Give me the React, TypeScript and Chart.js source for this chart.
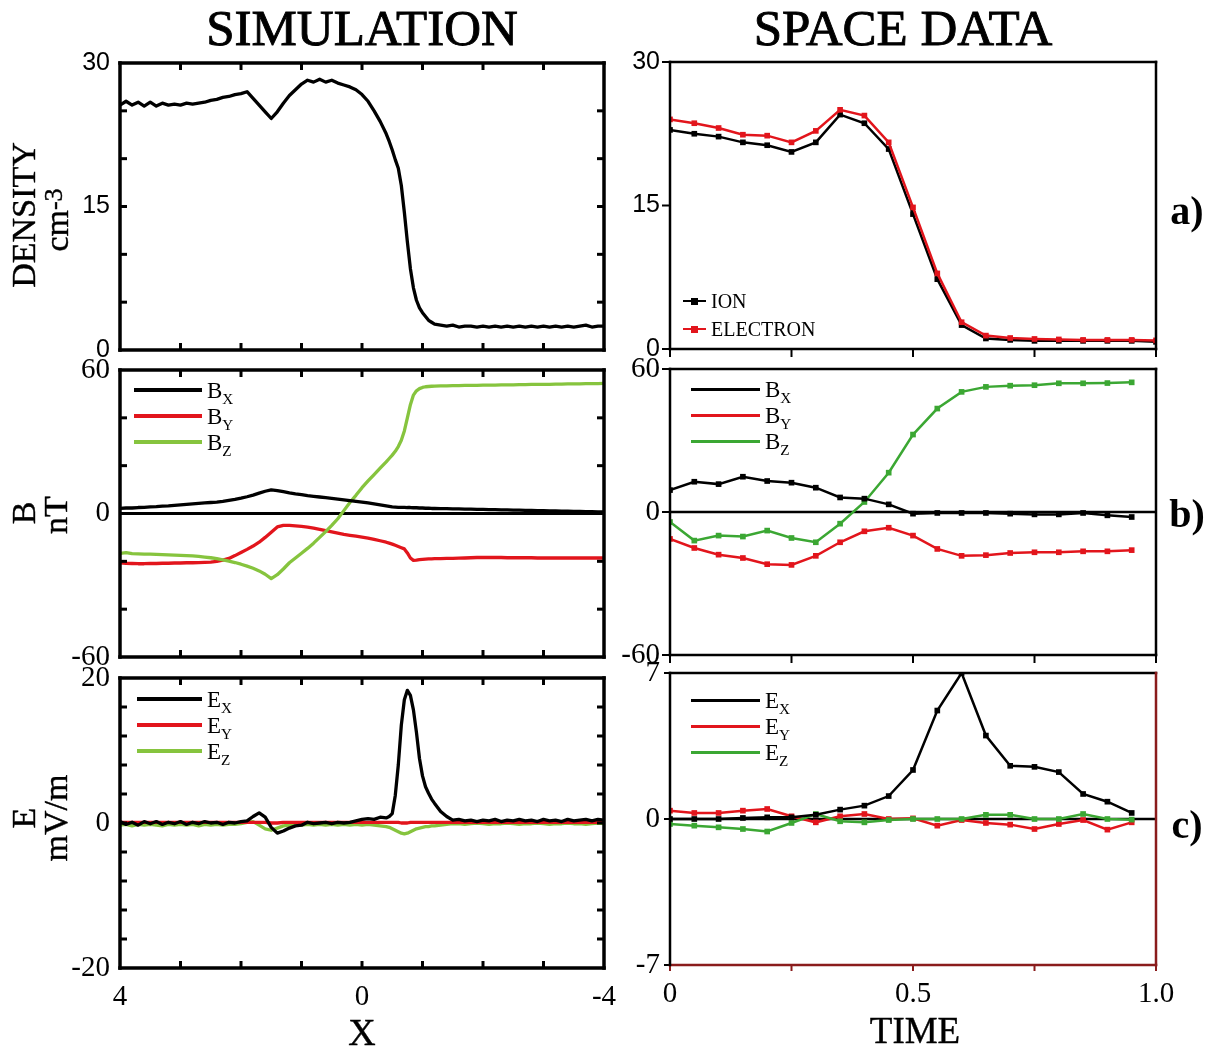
import React, { useEffect, useRef } from 'react';
import { Chart, registerables } from 'chart.js';

Chart.register(...registerables);

const W = 1217;
const H = 1049;
const SERIF = '"Liberation Serif", "DejaVu Serif", serif';
const SANS = '"Liberation Sans", Arial, sans-serif';
const RED = '#e2151c';
const GREEN_SIM = '#86c43e';
const GREEN_OBS = '#3ba733';
const BLACK = '#000000';
const MAROON = '#8a1c1c';

// ---------------- SIMULATION (left column) ----------------
const simX = [
  4.0, 3.9, 3.8, 3.7, 3.6, 3.5, 3.4, 3.3, 3.2, 3.1,
  3.0, 2.9, 2.8, 2.7, 2.6, 2.5, 2.4, 2.3, 2.2, 2.1,
  2.0, 1.9, 1.8, 1.7, 1.6, 1.5, 1.4, 1.3, 1.2, 1.1,
  1.0, 0.9, 0.8, 0.7, 0.6, 0.5, 0.4, 0.3, 0.2, 0.1,
  0.0, -0.1, -0.2, -0.3, -0.4,
  -0.45, -0.5, -0.55, -0.6, -0.65, -0.7, -0.75, -0.8, -0.85, -0.9, -0.95, -1.0, -1.05, -1.1, -1.15, -1.2,
  -1.3, -1.4, -1.5, -1.6, -1.7, -1.8, -1.9, -2.0, -2.1, -2.2,
  -2.3, -2.4, -2.5, -2.6, -2.7, -2.8, -2.9, -3.0, -3.1, -3.2,
  -3.3, -3.4, -3.5, -3.6, -3.7, -3.8, -3.9, -4.0,
];

const simDensity = [
  25.6, 26.0, 25.6, 25.9, 25.5, 25.9, 25.5, 25.8, 25.6, 25.7,
  25.6, 25.8, 25.7, 25.8, 25.9, 26.1, 26.2, 26.4, 26.5, 26.7,
  26.8, 27.0, 26.3, 25.6, 24.9, 24.2, 24.9, 25.8, 26.6, 27.2,
  27.8, 28.2, 28.0, 28.3, 28.0, 28.2, 27.9, 27.7, 27.5, 27.2,
  26.7, 26.0, 25.0, 23.9, 22.6,
  21.8, 20.9, 19.9, 19.0, 17.2, 14.4, 11.3, 8.5, 6.5, 5.2, 4.4, 3.9, 3.5, 3.1, 2.9, 2.7,
  2.6, 2.5, 2.6, 2.4, 2.5, 2.5, 2.4, 2.5, 2.4, 2.5,
  2.4, 2.5, 2.4, 2.5, 2.4, 2.5, 2.4, 2.5, 2.4, 2.5,
  2.4, 2.5, 2.4, 2.5, 2.6, 2.4, 2.5, 2.5,
];

const simBx = [
  2.1, 2.3, 2.3, 2.5, 2.6, 2.8, 2.9, 3.1, 3.2, 3.4,
  3.6, 3.8, 4.0, 4.2, 4.4, 4.6, 4.8, 5.1, 5.5, 5.9,
  6.4, 7.0, 7.7, 8.5, 9.3, 9.9, 9.6, 9.1, 8.6, 8.2,
  7.9, 7.5, 7.2, 6.9, 6.6, 6.3, 6.0, 5.7, 5.4, 5.1,
  4.8, 4.4, 4.0, 3.6, 3.2,
  3.0, 2.8, 2.7, 2.6, 2.6, 2.6, 2.5, 2.5, 2.4, 2.4, 2.3, 2.3, 2.2, 2.2, 2.1, 2.1,
  2.0, 2.0, 1.9, 1.9, 1.8, 1.8, 1.7, 1.7, 1.6, 1.6,
  1.5, 1.5, 1.4, 1.4, 1.3, 1.3, 1.2, 1.2, 1.1, 1.1,
  1.0, 1.0, 0.9, 0.9, 0.8, 0.8, 0.7, 0.7,
];

const simBy = [
  -20.6, -20.8, -20.9, -21.0, -21.0, -20.9, -20.9, -20.8, -20.8, -20.7,
  -20.7, -20.6, -20.6, -20.5, -20.4, -20.3, -20.0, -19.5, -18.8, -17.6,
  -16.3, -15.0, -13.6, -12.0, -10.0, -7.8, -5.6, -5.0, -5.0, -5.2,
  -5.4, -5.7, -6.1, -6.6, -7.2, -7.7, -8.2, -8.7, -9.1, -9.5,
  -9.9, -10.3, -10.8, -11.4, -12.0,
  -12.4, -12.8, -13.3, -13.8, -14.3, -14.8, -16.5, -18.6, -19.6, -19.5, -19.3, -19.2, -19.1, -19.0, -19.0, -18.9,
  -18.9, -18.8, -18.8, -18.7, -18.6, -18.5, -18.4, -18.4, -18.4, -18.4,
  -18.4, -18.5, -18.5, -18.5, -18.5, -18.5, -18.6, -18.6, -18.6, -18.6,
  -18.6, -18.6, -18.6, -18.6, -18.6, -18.6, -18.6, -18.6,
];

const simBz = [
  -16.7, -16.4, -16.8, -16.9, -17.0, -17.0, -17.1, -17.2, -17.3, -17.4,
  -17.5, -17.6, -17.7, -17.9, -18.2, -18.5, -18.9, -19.4, -19.9, -20.5,
  -21.2, -22.0, -22.9, -24.0, -25.4, -27.2, -25.6, -23.2, -20.6, -18.6,
  -16.6, -14.6, -12.4, -10.0, -7.6, -5.0, -2.2, 1.2, 4.6, 7.6,
  10.8, 13.6, 16.3, 19.0, 21.6,
  23.0, 24.4, 26.0, 28.0, 30.6, 34.5, 40.0, 45.5, 49.5, 51.3, 52.2, 52.7, 53.0, 53.1, 53.2, 53.3,
  53.4, 53.4, 53.5, 53.5, 53.6, 53.6, 53.6, 53.7, 53.7, 53.7,
  53.8, 53.8, 53.8, 53.9, 53.9, 54.0, 54.0, 54.0, 54.0, 54.1,
  54.1, 54.2, 54.2, 54.2, 54.3, 54.3, 54.3, 54.4,
];

const simEx = [
  0.2, -0.2, 0.1, -0.3, 0.2, -0.1, 0.2, -0.2, 0.1, -0.1,
  0.2, -0.2, 0.1, -0.1, 0.2, 0.0, 0.1, -0.2, 0.1, 0.0,
  0.2, 0.3, 0.9, 1.4, 0.8, -0.6, -1.4, -1.1, -0.7, -0.4,
  -0.3, 0.1, -0.1, 0.0, 0.1, -0.1, 0.1, 0.0, 0.1, 0.3,
  0.5, 0.6, 0.5, 0.8, 0.7,
  0.9, 1.3, 3.8, 8.0, 13.5, 17.0, 18.3, 17.6, 15.6, 12.5, 8.9, 6.5, 5.0, 4.1, 3.3, 2.7,
  1.6, 0.9, 0.4, 0.5, 0.3, 0.4, 0.2, 0.4, 0.3, 0.5,
  0.2, 0.4, 0.3, 0.5, 0.3, 0.4, 0.2, 0.5, 0.3, 0.4,
  0.2, 0.5, 0.3, 0.4, 0.5, 0.3, 0.5, 0.4,
];

const simEy = [
  0.1, 0.1, 0.1, 0.1, 0.1, 0.1, 0.1, 0.1, 0.1, 0.1,
  0.1, 0.1, 0.1, 0.1, 0.1, 0.1, 0.1, 0.1, 0.1, 0.1,
  0.1, 0.1, 0.1, 0.1, 0.1, 0.0, 0.0, 0.1, 0.1, 0.1,
  0.1, 0.1, 0.1, 0.1, 0.1, 0.1, 0.1, 0.1, 0.1, 0.1,
  0.1, 0.1, 0.1, 0.1, 0.1,
  0.1, 0.1, 0.1, 0.1, 0.0, 0.0, 0.0, 0.1, 0.1, 0.1, 0.1, 0.1, 0.1, 0.1, 0.1, 0.1,
  0.1, 0.1, 0.1, 0.1, 0.1, 0.1, 0.1, 0.1, 0.1, 0.1,
  0.1, 0.1, 0.1, 0.1, 0.1, 0.1, 0.1, 0.1, 0.1, 0.1,
  0.1, 0.1, 0.1, 0.1, 0.1, 0.1, 0.1, 0.1,
];

const simEz = [
  -0.3, -0.2, -0.4, -0.2, -0.3, -0.2, -0.3, -0.4, -0.2, -0.3,
  -0.2, -0.3, -0.2, -0.4, -0.2, -0.3, -0.2, -0.3, -0.2, -0.2,
  -0.1, 0.1, 0.2, -0.3, -0.8, -1.0, -0.7, -0.4, -0.3, -0.2,
  -0.3, -0.2, -0.3, -0.2, -0.3, -0.2, -0.3, -0.2, -0.3, -0.2,
  -0.3, -0.2, -0.3, -0.4, -0.5,
  -0.6, -0.8, -1.0, -1.2, -1.4, -1.5, -1.4, -1.2, -1.0, -0.8, -0.7, -0.6, -0.5, -0.5, -0.4, -0.4,
  -0.3, -0.2, -0.1, -0.1, -0.2, -0.1, 0.0, -0.1, -0.2, -0.1,
  -0.1, 0.0, -0.1, -0.2, -0.1, -0.1, 0.0, -0.1, -0.2, -0.1,
  -0.1, 0.0, -0.1, -0.1, -0.2, -0.1, 0.0, -0.1,
];

const simXLabelValues = [4, 0, -4];
const simXLabelText = ['4', '0', '-4'];
const simXMinor = [3, 2, 1, 0, -1, -2, -3];
const densityLabelValues = [0, 15, 30];
const densityLabelText = ['0', '15', '30'];
const densityMinor = [5, 10, 15, 20, 25];
const bLabelValues = [-60, 0, 60];
const bLabelText = ['-60', '0', '60'];
const bMinor = [-40, -20, 0, 20, 40];
const simELabelValues = [-20, 0, 20];
const simELabelText = ['-20', '0', '20'];
const simEMinor = [-16, -12, -8, -4, 0, 4, 8, 12, 16];

// ---------------- SPACE DATA (right column) ----------------
const timeDensity = [0, 0.05, 0.1, 0.15, 0.2, 0.25, 0.3, 0.35, 0.4, 0.45, 0.5, 0.55, 0.6, 0.65, 0.7, 0.75, 0.8, 0.85, 0.9, 0.95, 1.0];
const ionDensity = [22.9, 22.5, 22.2, 21.6, 21.3, 20.6, 21.6, 24.5, 23.6, 20.9, 14.1, 7.3, 2.5, 1.1, 0.95, 0.85, 0.85, 0.85, 0.85, 0.85, 0.75];
const electronDensity = [24.0, 23.6, 23.1, 22.4, 22.3, 21.6, 22.8, 25.0, 24.4, 21.6, 14.8, 7.9, 2.8, 1.4, 1.15, 1.05, 1.0, 0.95, 0.95, 0.95, 0.9];

const timeField = [0, 0.05, 0.1, 0.15, 0.2, 0.25, 0.3, 0.35, 0.4, 0.45, 0.5, 0.55, 0.6, 0.65, 0.7, 0.75, 0.8, 0.85, 0.9, 0.95];
const obsBx = [9.2, 12.7, 11.7, 14.8, 13.0, 12.3, 10.2, 6.1, 5.6, 3.2, -0.7, -0.4, -0.4, -0.4, -0.7, -1.0, -1.0, -0.4, -1.4, -2.1];
const obsBy = [-11.3, -15.1, -17.9, -19.3, -21.9, -22.2, -18.4, -12.7, -8.1, -6.6, -9.9, -15.5, -18.4, -18.1, -17.2, -16.9, -16.9, -16.5, -16.5, -16.0];
const obsBz = [-4.2, -12.0, -9.9, -10.3, -7.8, -10.9, -12.7, -4.9, 4.2, 16.5, 32.5, 43.4, 50.4, 52.5, 53.0, 53.2, 54.0, 54.0, 54.1, 54.4];
const obsEx = [0, 0, 0, 0.05, 0.08, 0.08, 0.2, 0.45, 0.64, 1.1, 2.35, 5.2, 7.0, 4.0, 2.55, 2.5, 2.25, 1.2, 0.83, 0.29];
const obsEy = [0.4, 0.29, 0.29, 0.4, 0.48, 0.13, -0.16, 0.13, 0.24, 0, 0.03, -0.32, -0.05, -0.19, -0.27, -0.48, -0.24, -0.05, -0.51, -0.16];
const obsEz = [-0.24, -0.32, -0.4, -0.48, -0.6, -0.19, 0.24, -0.11, -0.16, -0.05, 0, 0, 0, 0.2, 0.2, 0, 0, 0.24, 0, -0.03];

const timeMinor = [0, 0.25, 0.5, 0.75, 1.0];
const timeLabelValues = [0, 0.5, 1.0];
const timeLabelText = ['0', '0.5', '1.0'];
const obsDensityLabelValues = [0, 15, 30];
const obsDensityLabelText = ['0', '15', '30'];
const obsBLabelValues = [-60, 0, 60];
const obsBLabelText = ['-60', '0', '60'];
const obsELabelValues = [-7, 0, 7];
const obsELabelText = ['-7', '0', '7'];

// ---------------- chart building ----------------
type Sides = { top: string; right: string; bottom: string; left: string };
interface Spec {
  left: number; top: number; right: number; bottom: number;
  xMin: number; xMax: number; xReverse: boolean;
  yMin: number; yMax: number;
  datasets: any[];
  yLabelValues: number[]; yLabelText: string[]; yFamily: string; ySize: number;
  xLabelValues?: number[]; xLabelText?: string[];
  innerX?: number[]; innerY?: number[];
  outerX?: number[]; outerY?: number[];
  tickLen: number; tickWidth: number;
  frameWidth: number; frame: Sides;
  zero?: number;
}

function simLine(values: number[], color: string, order: number) {
  return {
    data: simX.map((x, i) => ({ x, y: values[i] })),
    borderColor: color, backgroundColor: color, borderWidth: 3.3,
    pointRadius: 0, tension: 0, order, borderJoinStyle: 'round',
  };
}

function obsLine(xs: number[], values: number[], color: string, order: number) {
  return {
    data: xs.map((x, i) => ({ x, y: values[i] })),
    borderColor: color, backgroundColor: color, borderWidth: 2.5,
    pointRadius: 4, pointStyle: 'rect', pointBorderWidth: 0, tension: 0, order,
  };
}

function framePlugin(s: Spec) {
  const seg = (ctx: CanvasRenderingContext2D, x1: number, y1: number, x2: number, y2: number, c: string, w: number) => {
    ctx.strokeStyle = c; ctx.lineWidth = w;
    ctx.beginPath(); ctx.moveTo(x1, y1); ctx.lineTo(x2, y2); ctx.stroke();
  };
  return {
    id: 'frame',
    beforeDatasetsDraw(chart: any) {
      if (!s.zero) return;
      const { ctx, chartArea: a } = chart;
      const y0 = chart.scales.y.getPixelForValue(0);
      ctx.save();
      seg(ctx, a.left, y0, a.right, y0, BLACK, s.zero);
      ctx.restore();
    },
    afterDatasetsDraw(chart: any) {
      const { ctx, chartArea: a } = chart;
      const xs = chart.scales.x;
      const ys = chart.scales.y;
      const tl = s.tickLen;
      const tw = s.tickWidth;
      ctx.save();
      ctx.lineCap = 'butt';
      (s.innerX || []).forEach((v) => {
        const p = xs.getPixelForValue(v);
        seg(ctx, p, a.bottom, p, a.bottom - tl, BLACK, tw);
        seg(ctx, p, a.top, p, a.top + tl, BLACK, tw);
      });
      (s.innerY || []).forEach((v) => {
        const p = ys.getPixelForValue(v);
        seg(ctx, a.left, p, a.left + tl, p, BLACK, tw);
        seg(ctx, a.right, p, a.right - tl, p, BLACK, tw);
      });
      (s.outerX || []).forEach((v) => {
        const p = xs.getPixelForValue(v);
        seg(ctx, p, a.bottom, p, a.bottom + tl, s.frame.bottom, tw);
      });
      (s.outerY || []).forEach((v) => {
        const p = ys.getPixelForValue(v);
        seg(ctx, a.left, p, a.left - tl, p, s.frame.left, tw);
      });
      const h = s.frameWidth / 2;
      seg(ctx, a.left - h, a.top, a.right + h, a.top, s.frame.top, s.frameWidth);
      seg(ctx, a.left - h, a.bottom, a.right + h, a.bottom, s.frame.bottom, s.frameWidth);
      seg(ctx, a.right, a.top - h, a.right, a.bottom + h, s.frame.right, s.frameWidth);
      seg(ctx, a.left, a.top - h, a.left, a.bottom + h, s.frame.left, s.frameWidth);
      ctx.restore();
    },
  };
}

function buildChart(canvas: HTMLCanvasElement, s: Spec) {
  const yW = 60;
  const xH = s.xLabelValues ? 50 : 0;
  return new Chart(canvas, {
    type: 'line',
    data: { datasets: s.datasets as any },
    options: {
      responsive: false,
      animation: false,
      events: [],
      layout: { padding: { left: s.left - yW, top: s.top, right: W - s.right, bottom: H - s.bottom - xH } },
      plugins: { legend: { display: false }, tooltip: { enabled: false } },
      scales: {
        x: {
          type: 'linear', min: s.xMin, max: s.xMax, reverse: s.xReverse,
          grid: { display: false, drawTicks: false }, border: { display: false },
          afterBuildTicks: (axis: any) => { axis.ticks = (s.xLabelValues || []).map((v) => ({ value: v })); },
          ticks: {
            display: !!s.xLabelValues, autoSkip: false, maxRotation: 0, padding: 12, color: BLACK,
            font: { family: SERIF, size: 29 },
            callback: (_v: any, i: number) => (s.xLabelText ? s.xLabelText[i] : ''),
          },
          afterFit: (axis: any) => { axis.height = xH; },
        },
        y: {
          type: 'linear', min: s.yMin, max: s.yMax,
          grid: { display: false, drawTicks: false }, border: { display: false },
          afterBuildTicks: (axis: any) => { axis.ticks = s.yLabelValues.map((v) => ({ value: v })); },
          ticks: {
            autoSkip: false, padding: 10, color: BLACK,
            font: { family: s.yFamily, size: s.ySize },
            callback: (_v: any, i: number) => s.yLabelText[i],
          },
          afterFit: (axis: any) => { axis.width = yW; },
        },
      },
    } as any,
    plugins: [framePlugin(s) as any],
  });
}

const L_LEFT = 120, L_RIGHT = 604, R_LEFT = 670, R_RIGHT = 1156;
const blackFrame: Sides = { top: BLACK, right: BLACK, bottom: BLACK, left: BLACK };

const specs: Spec[] = [
  {
    left: L_LEFT, right: L_RIGHT, top: 63, bottom: 350,
    xMin: -4, xMax: 4, xReverse: true, yMin: 0, yMax: 30,
    datasets: [simLine(simDensity, BLACK, 0)],
    yLabelValues: densityLabelValues, yLabelText: densityLabelText, yFamily: SANS, ySize: 25,
    innerX: simXMinor, innerY: densityMinor, tickLen: 7, tickWidth: 3,
    frameWidth: 3.5, frame: blackFrame,
  },
  {
    left: L_LEFT, right: L_RIGHT, top: 370, bottom: 657,
    xMin: -4, xMax: 4, xReverse: true, yMin: -60, yMax: 60,
    datasets: [simLine(simBx, BLACK, 0), simLine(simBz, GREEN_SIM, 1), simLine(simBy, RED, 2)],
    yLabelValues: bLabelValues, yLabelText: bLabelText, yFamily: SERIF, ySize: 29,
    innerX: simXMinor, innerY: bMinor, tickLen: 7, tickWidth: 3,
    frameWidth: 3.5, frame: blackFrame, zero: 3,
  },
  {
    left: L_LEFT, right: L_RIGHT, top: 678, bottom: 968,
    xMin: -4, xMax: 4, xReverse: true, yMin: -20, yMax: 20,
    datasets: [simLine(simEx, BLACK, 0), simLine(simEy, RED, 1), simLine(simEz, GREEN_SIM, 2)],
    yLabelValues: simELabelValues, yLabelText: simELabelText, yFamily: SERIF, ySize: 29,
    xLabelValues: simXLabelValues, xLabelText: simXLabelText,
    innerX: simXMinor, innerY: simEMinor, tickLen: 7, tickWidth: 3,
    frameWidth: 3.5, frame: blackFrame, zero: 2,
  },
  {
    left: R_LEFT, right: R_RIGHT, top: 62, bottom: 349,
    xMin: 0, xMax: 1, xReverse: false, yMin: 0, yMax: 30,
    datasets: [obsLine(timeDensity, electronDensity, RED, 0), obsLine(timeDensity, ionDensity, BLACK, 1)],
    yLabelValues: obsDensityLabelValues, yLabelText: obsDensityLabelText, yFamily: SANS, ySize: 25,
    outerX: timeMinor, outerY: obsDensityLabelValues, tickLen: 8, tickWidth: 2,
    frameWidth: 2.5, frame: blackFrame,
  },
  {
    left: R_LEFT, right: R_RIGHT, top: 369, bottom: 655,
    xMin: 0, xMax: 1, xReverse: false, yMin: -60, yMax: 60,
    datasets: [obsLine(timeField, obsBx, BLACK, 0), obsLine(timeField, obsBy, RED, 1), obsLine(timeField, obsBz, GREEN_OBS, 2)],
    yLabelValues: obsBLabelValues, yLabelText: obsBLabelText, yFamily: SERIF, ySize: 29,
    outerX: timeMinor, outerY: obsBLabelValues, tickLen: 8, tickWidth: 2,
    frameWidth: 2.5, frame: blackFrame, zero: 2.5,
  },
  {
    left: R_LEFT, right: R_RIGHT, top: 673, bottom: 965,
    xMin: 0, xMax: 1, xReverse: false, yMin: -7, yMax: 7,
    datasets: [obsLine(timeField, obsEx, BLACK, 0), obsLine(timeField, obsEz, GREEN_OBS, 1), obsLine(timeField, obsEy, RED, 2)],
    yLabelValues: obsELabelValues, yLabelText: obsELabelText, yFamily: SERIF, ySize: 29,
    xLabelValues: timeLabelValues, xLabelText: timeLabelText,
    outerX: timeMinor, outerY: obsELabelValues, tickLen: 6, tickWidth: 2,
    frameWidth: 2.5, frame: { top: BLACK, right: MAROON, bottom: MAROON, left: BLACK }, zero: 2.5,
  },
];

function Panel({ spec }: { spec: Spec }) {
  const ref = useRef<HTMLCanvasElement>(null);
  useEffect(() => {
    const chart = buildChart(ref.current as HTMLCanvasElement, spec);
    return () => chart.destroy();
  }, [spec]);
  return <canvas ref={ref} width={W} height={H} style={{ position: 'absolute', left: 0, top: 0, width: W, height: H }} />;
}

function Txt(props: { x: number; y: number; size: number; rotate?: boolean; bold?: boolean; stroke?: number; family?: string; children: React.ReactNode }) {
  const { x, y, size, rotate, bold, stroke, family, children } = props;
  return (
    <div
      style={{
        position: 'absolute', left: x, top: y, fontSize: size, lineHeight: 1,
        fontFamily: family || SERIF, fontWeight: bold ? 'bold' : 'normal', color: BLACK,
        whiteSpace: 'nowrap',
        WebkitTextStroke: stroke ? `${stroke}px ${BLACK}` : undefined,
        transform: `translate(-50%, -50%)${rotate ? ' rotate(-90deg)' : ''}`,
      }}
    >
      {children}
    </div>
  );
}

function LegendRow(props: { x1: number; x2: number; y: number; color: string; label: string; sub?: string; size: number; lineW: number; marker?: boolean }) {
  const { x1, x2, y, color, label, sub, size, lineW, marker } = props;
  const mid = (x1 + x2) / 2;
  return (
    <>
      <div style={{ position: 'absolute', left: x1, top: y - lineW / 2, width: x2 - x1, height: lineW, background: color }} />
      {marker && <div style={{ position: 'absolute', left: mid - 3.5, top: y - 3.5, width: 7, height: 7, background: color }} />}
      <div style={{ position: 'absolute', left: x2 + 5, top: y - size * 0.5, fontSize: size, lineHeight: 1, fontFamily: SERIF, color: BLACK, whiteSpace: 'nowrap' }}>
        {label}
        {sub && <sub style={{ fontSize: size * 0.66, verticalAlign: -size * 0.28 }}>{sub}</sub>}
      </div>
    </>
  );
}

export default function App() {
  return (
    <div style={{ position: 'absolute', left: 0, top: 0, width: W, height: H, background: '#fff', overflow: 'hidden' }}>
      {specs.map((s, i) => <Panel key={i} spec={s} />)}

      <Txt x={362} y={28} size={51} stroke={0.9}>SIMULATION</Txt>
      <Txt x={903} y={28} size={51} stroke={0.9}>SPACE DATA</Txt>

      <Txt x={24} y={215} size={34} rotate stroke={0.4}>DENSITY</Txt>
      <Txt x={57} y={220} size={34} rotate stroke={0.4}>cm<sup style={{ fontSize: 26, verticalAlign: 6 }}>-3</sup></Txt>
      <Txt x={24} y={513} size={34} rotate stroke={0.4}>B</Txt>
      <Txt x={56} y={515} size={34} rotate stroke={0.4}>nT</Txt>
      <Txt x={24} y={818} size={34} rotate stroke={0.4}>E</Txt>
      <Txt x={56} y={818} size={34} rotate stroke={0.4}>mV/m</Txt>

      <Txt x={362} y={1032} size={38} stroke={0.4}>X</Txt>
      <Txt x={915} y={1030} size={37} stroke={0.4}>TIME</Txt>

      <Txt x={1187} y={211} size={40} bold>a)</Txt>
      <Txt x={1187} y={514} size={40} bold>b)</Txt>
      <Txt x={1187} y={825} size={40} bold>c)</Txt>

      <LegendRow x1={134} x2={202} y={390} color={BLACK} label="B" sub="X" size={23} lineW={4} />
      <LegendRow x1={134} x2={202} y={416} color={RED} label="B" sub="Y" size={23} lineW={4} />
      <LegendRow x1={134} x2={202} y={442} color={GREEN_SIM} label="B" sub="Z" size={23} lineW={4} />

      <LegendRow x1={137} x2={202} y={699} color={BLACK} label="E" sub="X" size={23} lineW={4} />
      <LegendRow x1={137} x2={202} y={725} color={RED} label="E" sub="Y" size={23} lineW={4} />
      <LegendRow x1={137} x2={202} y={751} color={GREEN_SIM} label="E" sub="Z" size={23} lineW={4} />

      <LegendRow x1={691} x2={760} y={389} color={BLACK} label="B" sub="X" size={23} lineW={3} />
      <LegendRow x1={691} x2={760} y={415} color={RED} label="B" sub="Y" size={23} lineW={3} />
      <LegendRow x1={691} x2={760} y={441} color={GREEN_OBS} label="B" sub="Z" size={23} lineW={3} />

      <LegendRow x1={691} x2={760} y={700} color={BLACK} label="E" sub="X" size={23} lineW={3} />
      <LegendRow x1={691} x2={760} y={726} color={RED} label="E" sub="Y" size={23} lineW={3} />
      <LegendRow x1={691} x2={760} y={752} color={GREEN_OBS} label="E" sub="Z" size={23} lineW={3} />

      <LegendRow x1={683} x2={706} y={301} color={BLACK} label="ION" size={20} lineW={2.5} marker />
      <LegendRow x1={683} x2={706} y={329} color={RED} label="ELECTRON" size={20} lineW={2.5} marker />
    </div>
  );
}
